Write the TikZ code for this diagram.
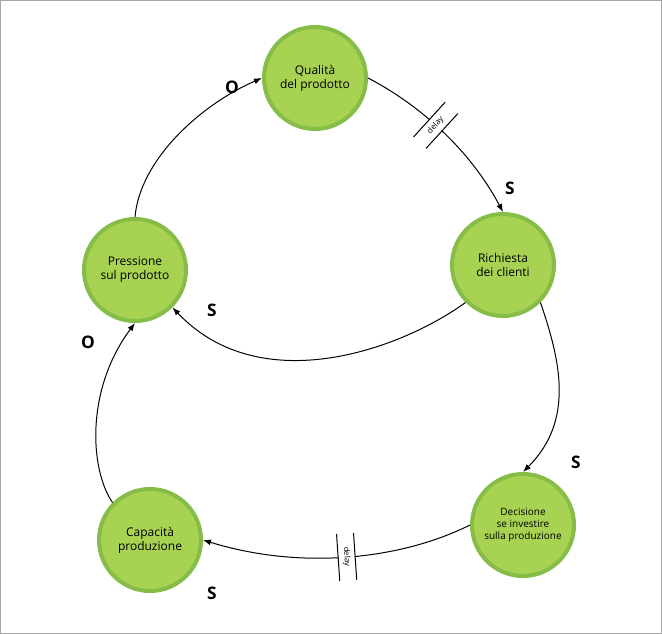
\documentclass[tikz,border=0pt]{standalone}
\usepackage{fontspec}
\setmainfont{Open Sans}
\usetikzlibrary{arrows.meta}
\definecolor{ring}{RGB}{134,188,72}
\definecolor{leaf}{RGB}{168,210,82}
\begin{document}
\begin{tikzpicture}[x=1pt,y=-1pt,
  st/.style={circle,draw=ring,line width=4pt,fill=leaf,minimum size=102pt,inner sep=0pt,align=center,font=\large,text=black},
  arr/.style={-{Latex[length=8pt,width=6pt]},line width=1pt},
  pol/.style={font=\LARGE\bfseries},
  dl/.style={sloped,fill=white,font=\footnotesize,minimum width=46pt,minimum height=16pt,inner sep=1pt}]
\draw[gray!70] (0.5,0.5) rectangle (661.5,633.5);
\useasboundingbox (0,0) rectangle (662,634);
\node[st] (q) at (315,78) {Qualità\\del prodotto};
\node[st] (r) at (503,265) {Richiesta\\dei clienti};
\node[st] (p) at (135,270) {Pressione\\sul prodotto};
\node[st,font=\normalsize] (d) at (523,525) {Decisione\\se investire\\sulla produzione};
\node[st] (c) at (150,540) {Capacità\\produzione};
\draw[arr] (q.east) .. controls (420,105) and (470,150) .. node[dl,pos=0.45,rotate=90] (d1) {delay} (r.north);
\draw[line width=1pt] (d1.north west)--(d1.north east) (d1.south west)--(d1.south east);
\draw[arr] (r.south west) .. controls (400,350) and (260,400) .. (p.south east);
\draw[arr] (p.north) .. controls (140,160) and (200,105) .. (q.west);
\draw[arr] (r.south east) .. controls (560,360) and (575,420) .. (d.north);
\draw[arr] (d.west) .. controls (400,560) and (300,570) .. node[dl,pos=0.5,rotate=-90] (d2) {delay} (c.east);
\draw[line width=1pt] (d2.north west)--(d2.north east) (d2.south west)--(d2.south east);
\draw[arr] (c.north west) .. controls (90,470) and (85,390) .. (p.south);
\node[pol] (s1) at (510,188) {S};
\node[pol] (s2) at (212,310) {S};
\node[pol] (o1) at (232,87) {O};
\node[pol] (s3) at (576,462) {S};
\node[pol] (s4) at (212,593) {S};
\node[pol] (o2) at (88,342) {O};
\end{tikzpicture}
\end{document}
